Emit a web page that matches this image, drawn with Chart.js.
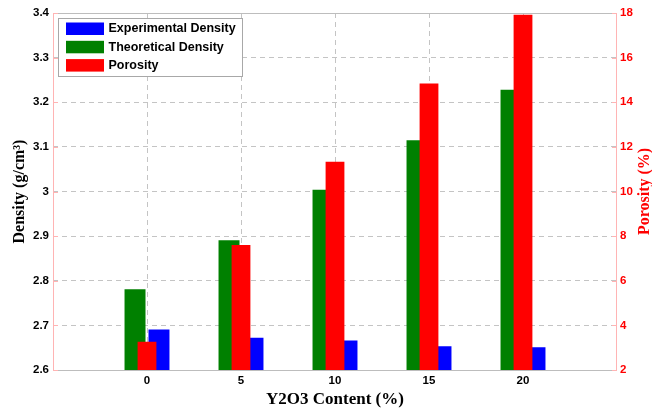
<!DOCTYPE html>
<html>
<head>
<meta charset="utf-8">
<script src="https://cdn.jsdelivr.net/npm/chart.js@4.4.1/dist/chart.umd.min.js"></script>
<style>
  html, body { margin: 0; padding: 0; background: #fff; }
</style>
</head>
<body>
<canvas id="chart" width="652" height="410"></canvas>
<script>
// Y2O3 content (%) categories
const categories = ['0', '5', '10', '15', '20']
// left axis (g/cm3)
const experimentalDensity = [2.691, 2.672, 2.666, 2.653, 2.651]
const theoreticalDensity = [2.781, 2.891, 3.004, 3.115, 3.228]
// right axis (%)
const porosity = [3.27, 7.6, 11.33, 14.84, 17.92]
const densityTicks = [2.6, 2.7, 2.8, 2.9, 3.0, 3.1, 3.2, 3.3, 3.4]
const porosityTicks = [2, 4, 6, 8, 10, 12, 14, 16, 18]

// empty slot on each side of the groups
const xLabels = ['', ...categories, '']
const pad = arr => [null, ...arr, null]

const SANS = '"Liberation Sans", Arial, sans-serif'
const SERIF = '"Liberation Serif", "Times New Roman", serif'
const GRID = '#c4c4c4'
const PINK = '#ffb4b4'
const TICK_FONT = { family: SANS, size: 11.5, weight: 'bold' }

const edgeless = n => ctx => (ctx.index === 0 || ctx.index === n - 1) ? 'rgba(0,0,0,0)' : GRID

// axes frame + inward ticks like the matlab box
const frame = {
  id: 'frame',
  afterDatasetsDraw(chart) {
    const { ctx, chartArea: a } = chart
    const y = chart.scales.y
    ctx.save()
    ctx.lineWidth = 1
    ctx.strokeStyle = '#bdbdbd'
    ctx.beginPath()
    ctx.moveTo(a.left, a.top + 0.5); ctx.lineTo(a.right, a.top + 0.5)
    ctx.moveTo(a.left, a.bottom + 0.5); ctx.lineTo(a.right, a.bottom + 0.5)
    ctx.stroke()
    ctx.strokeStyle = PINK
    ctx.beginPath()
    ctx.moveTo(a.left + 0.5, a.top); ctx.lineTo(a.left + 0.5, a.bottom)
    ctx.moveTo(a.right - 0.5, a.top); ctx.lineTo(a.right - 0.5, a.bottom)
    y.ticks.forEach(t => {
      const py = Math.round(y.getPixelForValue(t.value)) + 0.5
      ctx.moveTo(a.left, py); ctx.lineTo(a.left + 5, py)
      ctx.moveTo(a.right, py); ctx.lineTo(a.right - 5, py)
    })
    ctx.stroke()
    ctx.restore()
  }
}

// right title reads bottom-to-top, so draw it by hand
const rightTitle = {
  id: 'rightTitle',
  afterDraw(chart) {
    const { ctx, chartArea: a } = chart
    ctx.save()
    ctx.translate(645, (a.top + a.bottom) / 2)
    ctx.rotate(-Math.PI / 2)
    ctx.font = 'bold 16px ' + SERIF
    ctx.fillStyle = '#ff0000'
    ctx.textAlign = 'center'
    ctx.textBaseline = 'middle'
    ctx.fillText('Porosity (%)', 0, 0)
    ctx.restore()
  }
}

// boxed legend inside the plot, top-left
const legendOrder = [0, 1, 2]
const boxLegend = {
  id: 'boxLegend',
  afterDraw(chart) {
    const { ctx, chartArea: a } = chart
    const x0 = a.left + 5.5, y0 = a.top + 5.5
    ctx.save()
    ctx.fillStyle = '#fff'
    ctx.strokeStyle = '#a8a8a8'
    ctx.lineWidth = 1
    ctx.fillRect(x0, y0, 184, 58)
    ctx.strokeRect(x0, y0, 184, 58)
    ctx.font = 'bold 12.5px ' + SANS
    ctx.textBaseline = 'middle'
    legendOrder.forEach((i, k) => {
      const ds = chart.data.datasets[i]
      const top = y0 + 4 + k * 18.3
      ctx.fillStyle = ds.backgroundColor
      ctx.fillRect(x0 + 7.5, top, 38, 12.5)
      ctx.fillStyle = '#000'
      ctx.fillText(ds.label, x0 + 50, top + 6.5)
    })
    ctx.restore()
  }
}

new Chart(document.getElementById('chart'), {
  type: 'bar',
  data: {
    labels: xLabels,
    datasets: [
      {
        label: 'Experimental Density',
        data: pad(experimentalDensity),
        backgroundColor: '#0000ff',
        yAxisID: 'y',
        order: 2,
        categoryPercentage: 0.51, barPercentage: 0.875,
      },
      {
        label: 'Theoretical Density',
        data: pad(theoreticalDensity),
        backgroundColor: '#008000',
        yAxisID: 'y',
        order: 1,
        categoryPercentage: 0.51, barPercentage: 0.875,
      },
      {
        // centred on the category, drawn over the density pair
        label: 'Porosity',
        data: pad(porosity),
        backgroundColor: '#ff0000',
        yAxisID: 'y1',
        order: 0,
        grouped: false,
        categoryPercentage: 0.2, barPercentage: 1,
      },
    ],
  },
  options: {
    responsive: false,
    animation: false,
    devicePixelRatio: 1,
    layout: { padding: { top: 13, left: 0, right: 0, bottom: 0 } },
    plugins: {
      legend: { display: false },
      tooltip: { enabled: false },
    },
    scales: {
      x: {
        type: 'category',
        offset: false,
        grid: { color: edgeless(xLabels.length), drawTicks: false, offset: false },
        border: { display: false, dash: [5, 4] },
        ticks: {
          autoSkip: false, maxRotation: 0, padding: 4,
          color: '#000',
          font: TICK_FONT,
        },
        title: {
          display: true,
          text: 'Y2O3 Content (%)',
          color: '#000',
          font: { family: SERIF, size: 17, weight: 'bold' },
          padding: { top: 0, bottom: 0 },
        },
        afterFit: s => { s.height = 40 },
      },
      y: {
        position: 'left',
        min: 2.6, max: 3.4,
        afterBuildTicks: s => { s.ticks = densityTicks.map(v => ({ value: v })) },
        grid: { color: edgeless(densityTicks.length), drawTicks: false },
        border: { display: false, dash: [5, 4] },
        ticks: {
          padding: 4,
          color: '#000',
          font: TICK_FONT,
          callback: v => String(Math.round(v * 10) / 10),
        },
        title: {
          display: true,
          text: 'Density (g/cm³)',
          color: '#000',
          font: { family: SERIF, size: 16, weight: 'bold' },
          padding: { top: 10, bottom: 0 },
        },
        afterFit: s => { s.width = 53 },
      },
      y1: {
        position: 'right',
        min: 2, max: 18,
        afterBuildTicks: s => { s.ticks = porosityTicks.map(v => ({ value: v })) },
        grid: { drawOnChartArea: false, drawTicks: false },
        border: { display: false },
        ticks: {
          padding: 3,
          color: '#ff0000',
          font: TICK_FONT,
        },
        afterFit: s => { s.width = 35 },
      },
    },
  },
  plugins: [frame, rightTitle, boxLegend],
})
</script>
</body>
</html>
